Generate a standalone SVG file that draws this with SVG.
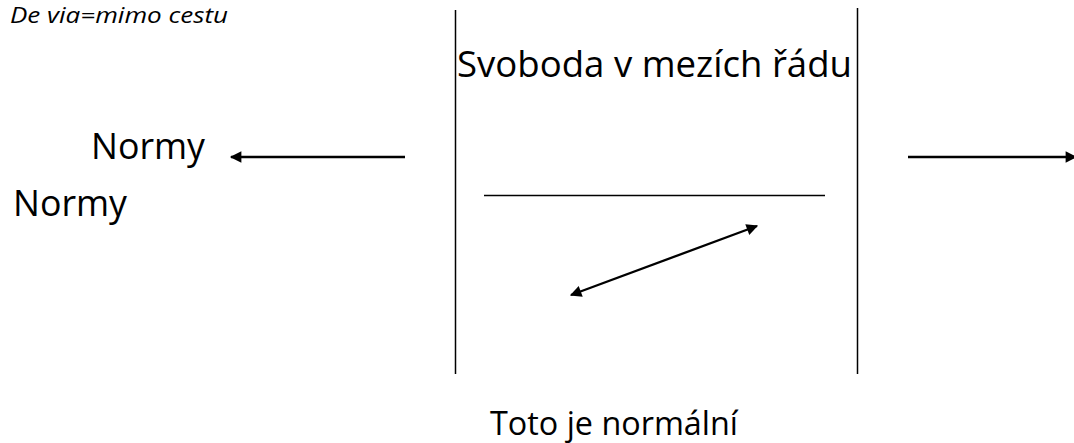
<svg xmlns="http://www.w3.org/2000/svg" width="1074" height="443" viewBox="0 0 1074 443">
<style>
.t{font-family:"Open Sans","Noto Sans","Liberation Sans",sans-serif;fill:#000}
.ln{stroke:#000;stroke-width:1.5;fill:none}
.ar{stroke:#000;stroke-width:2.3;fill:none}
</style>
<defs>
<marker id="ah" viewBox="0 0 10 10" refX="9" refY="5" markerWidth="5.5" markerHeight="5" orient="auto-start-reverse" markerUnits="strokeWidth">
<path d="M0,0 L10,5 L0,10 z" fill="#000"/>
</marker>
</defs>
<rect width="1074" height="443" fill="#fff"/>
<g id="title"><text class="t" x="10" y="23" font-size="21" font-style="italic" textLength="218" lengthAdjust="spacingAndGlyphs">De via=mimo cestu</text></g>
<g id="svoboda"><text class="t" x="457" y="77" font-size="37" textLength="395" lengthAdjust="spacingAndGlyphs">Svoboda v mezích řádu</text></g>
<g id="normy1"><text class="t" x="91" y="159" font-size="37" textLength="114" lengthAdjust="spacingAndGlyphs">Normy</text></g>
<g id="normy2"><text class="t" x="13" y="216" font-size="37" textLength="114" lengthAdjust="spacingAndGlyphs">Normy</text></g>
<g id="toto"><text class="t" x="490" y="435" font-size="32" textLength="248" lengthAdjust="spacingAndGlyphs">Toto je normální</text></g>
<g id="connectors">
<line class="ln" x1="455.5" y1="10" x2="455.5" y2="374"/>
<line class="ln" x1="857.5" y1="8" x2="857.5" y2="374"/>
<line class="ln" x1="484" y1="195.5" x2="825" y2="195.5"/>
<line class="ar" x1="405" y1="157" x2="231" y2="157" marker-end="url(#ah)"/>
<line class="ar" x1="908" y1="157" x2="1076" y2="157" marker-end="url(#ah)"/>
<line class="ar" x1="571" y1="295" x2="757" y2="226" marker-start="url(#ah)" marker-end="url(#ah)"/>
</g>
</svg>
